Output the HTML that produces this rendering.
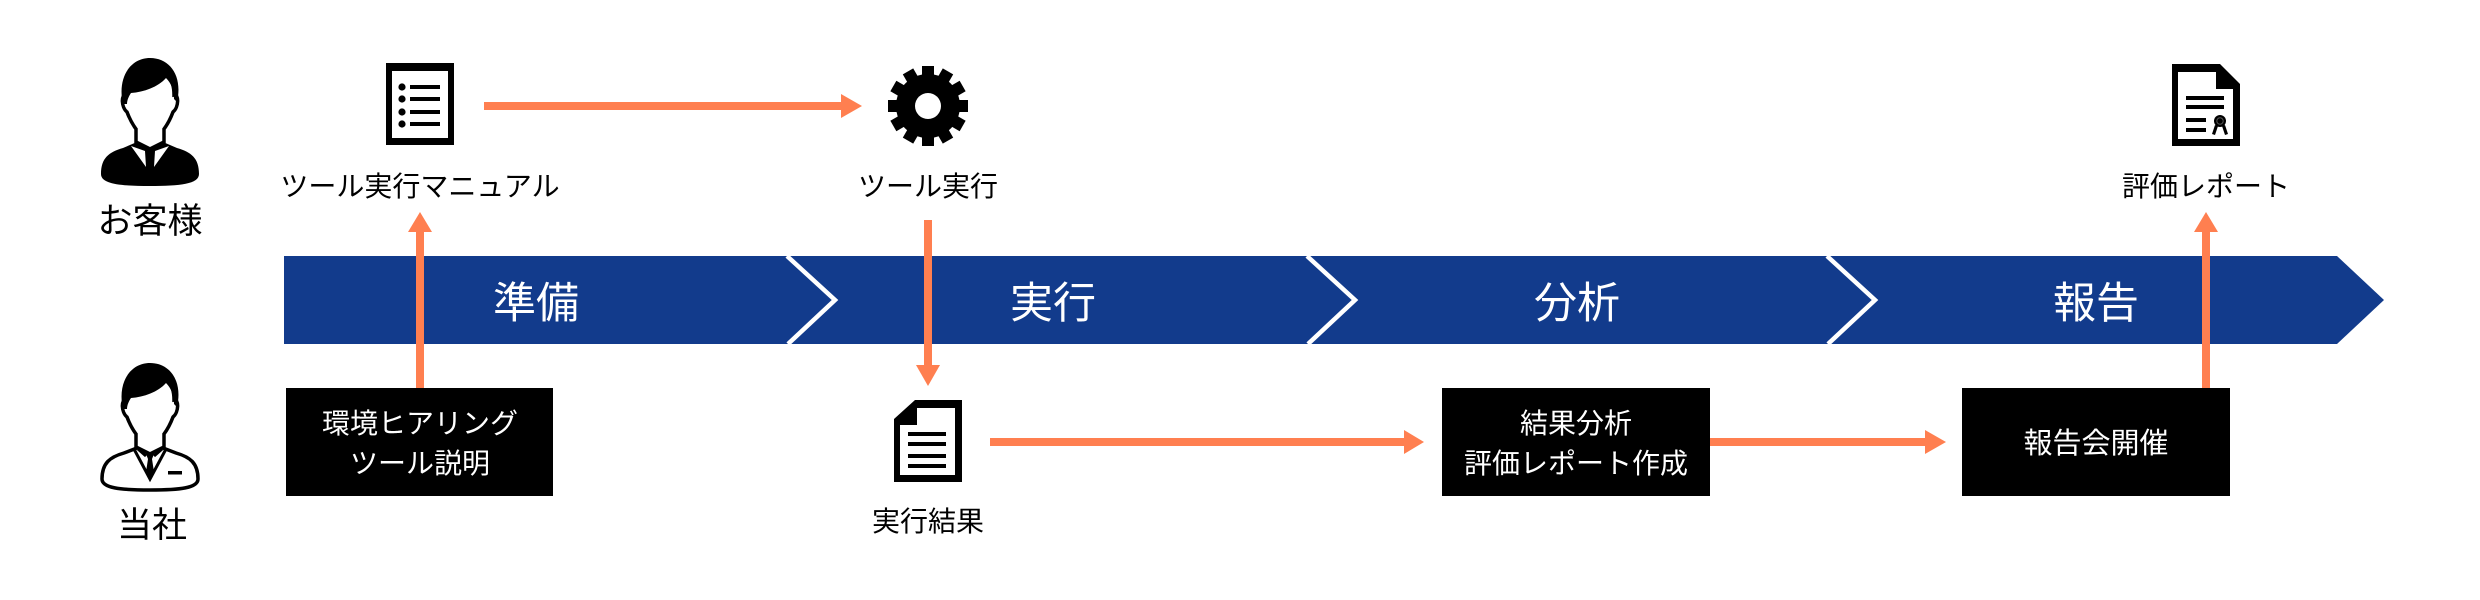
<!DOCTYPE html>
<html lang="ja">
<head>
<meta charset="utf-8">
<style>
  html, body { margin: 0; padding: 0; background: #ffffff; }
  body { width: 2480px; height: 600px; overflow: hidden; }
  svg { display: block; }
  text { font-family: "Liberation Sans", "Noto Sans CJK JP", sans-serif; }
</style>
</head>
<body>
<svg width="2480" height="600" viewBox="0 0 2480 600" xmlns="http://www.w3.org/2000/svg">
  <rect x="0" y="0" width="2480" height="600" fill="#ffffff"/>

  <!-- Blue band -->
  <polygon points="284,256 2337,256 2384,300 2337,344 284,344" fill="#123b8c"/>
  <g fill="none" stroke="#ffffff" stroke-width="4.5" stroke-linejoin="miter">
    <polyline points="787,256 835,300 788,344"/>
    <polyline points="1307,256 1355,300 1308,344"/>
    <polyline points="1827,256 1875,300 1828,344"/>
  </g>
  <g fill="#ffffff" font-size="43" text-anchor="middle">
    <text x="536" y="318">準備</text>
    <text x="1053" y="318">実行</text>
    <text x="1577" y="318">分析</text>
    <text x="2096" y="318">報告</text>
  </g>

  <!-- Customer icon -->
  <g transform="translate(90,50)">
    <path d="M 11 124 C 11 108 19 102 33 98 L 47 92 L 73 92 L 87 98 C 101 102 109 108 109 124 C 109 134 90 136 60 136 C 30 136 11 134 11 124 Z" fill="#000"/>
    <path d="M 36 45 C 31 44 31 57 37 62 C 40 70 43 75 46 79 L 46 92 L 60 99 L 74 92 L 74 79 C 77 75 80 70 83 62 C 89 57 89 44 84 45 C 84 26 74 19 60 19 C 46 19 36 26 36 45 Z" fill="#fff" stroke="#000" stroke-width="3.5"/>
    <path d="M 33 54 C 27 28 40 8 60 8 C 80 8 93 26 87 52 L 84 49 C 84 40 81 33 76 28 C 68 37 54 42 41 43 C 39 46 37 50 37 54 Z" fill="#000"/>
    <polygon points="41,96 55,101 56,117" fill="#fff"/>
    <polygon points="79,96 65,101 64,117" fill="#fff"/>
    <polygon points="56,99 64,99 62,104 64,117 60,122 56,117 58,104" fill="#000"/>
  </g>
  <text x="150" y="233" font-size="35" text-anchor="middle" fill="#000">お客様</text>

  <!-- Company icon -->
  <g transform="translate(90,355)">
    <path d="M 12 124 C 12 108 20 102 34 98 L 47 93 L 73 93 L 86 98 C 100 102 108 108 108 124 C 108 133 90 135 60 135 C 30 135 12 133 12 124 Z" fill="#fff" stroke="#000" stroke-width="3.5"/>
    <path d="M 36 45 C 31 44 31 57 37 62 C 40 70 43 75 46 79 L 46 92 L 60 99 L 74 92 L 74 79 C 77 75 80 70 83 62 C 89 57 89 44 84 45 C 84 26 74 19 60 19 C 46 19 36 26 36 45 Z" fill="#fff" stroke="#000" stroke-width="3.5"/>
    <path d="M 33 54 C 27 28 40 8 60 8 C 80 8 93 26 87 52 L 84 49 C 84 40 81 33 76 28 C 68 37 54 42 41 43 C 39 46 37 50 37 54 Z" fill="#000"/>
    <g fill="none" stroke="#000" stroke-width="3">
      <polyline points="44,94 60,124 76,94"/>
      <polyline points="48,94 56,101"/>
      <polyline points="72,94 64,101"/>
    </g>
    <polygon points="56,99 64,99 62,104 64,117 60,122 56,117 58,104" fill="#000"/>
    <rect x="78" y="116" width="14" height="3.5" fill="#000"/>
  </g>
  <text x="152" y="537" font-size="35" text-anchor="middle" fill="#000">当社</text>

  <!-- Manual icon -->
  <rect x="386" y="63" width="68" height="82" fill="#000"/>
  <rect x="392" y="71" width="56" height="67" fill="#fff"/>
  <g fill="#000">
    <circle cx="402" cy="87" r="3.6"/>
    <circle cx="402" cy="99" r="3.6"/>
    <circle cx="402" cy="112" r="3.6"/>
    <circle cx="402" cy="124" r="3.6"/>
    <rect x="410" y="85" width="30" height="4"/>
    <rect x="410" y="97" width="30" height="4"/>
    <rect x="410" y="110" width="30" height="4"/>
    <rect x="410" y="122" width="30" height="4"/>
  </g>
  <text x="420" y="196" font-size="28" text-anchor="middle" fill="#000">ツール実行マニュアル</text>

  <!-- Gear icon -->
  <g transform="translate(928,106)" fill="#000">
    <circle r="32"/>
    <rect x="-6" y="-40" width="12" height="14" transform="rotate(0)"/>
    <rect x="-6" y="-40" width="12" height="14" transform="rotate(30)"/>
    <rect x="-6" y="-40" width="12" height="14" transform="rotate(60)"/>
    <rect x="-6" y="-40" width="12" height="14" transform="rotate(90)"/>
    <rect x="-6" y="-40" width="12" height="14" transform="rotate(120)"/>
    <rect x="-6" y="-40" width="12" height="14" transform="rotate(150)"/>
    <rect x="-6" y="-40" width="12" height="14" transform="rotate(180)"/>
    <rect x="-6" y="-40" width="12" height="14" transform="rotate(210)"/>
    <rect x="-6" y="-40" width="12" height="14" transform="rotate(240)"/>
    <rect x="-6" y="-40" width="12" height="14" transform="rotate(270)"/>
    <rect x="-6" y="-40" width="12" height="14" transform="rotate(300)"/>
    <rect x="-6" y="-40" width="12" height="14" transform="rotate(330)"/>
    <circle r="13" fill="#fff"/>
  </g>
  <text x="928" y="196" font-size="28" text-anchor="middle" fill="#000">ツール実行</text>

  <!-- Result document icon -->
  <polygon points="894,419 915,400 962,400 962,482 894,482" fill="#000"/>
  <polygon points="917,408 955,408 955,475 900,475 900,425 917,425" fill="#fff"/>
  <g fill="#000">
    <rect x="908" y="432" width="38" height="4"/>
    <rect x="908" y="442" width="38" height="4"/>
    <rect x="908" y="454" width="38" height="4"/>
    <rect x="908" y="464" width="38" height="4"/>
  </g>
  <text x="928" y="531" font-size="28" text-anchor="middle" fill="#000">実行結果</text>

  <!-- Certificate / report icon -->
  <polygon points="2172,64 2220,64 2240,84 2240,146 2172,146" fill="#000"/>
  <polygon points="2178,72 2216,72 2216,89 2233,89 2233,139 2178,139" fill="#fff"/>
  <g fill="#000">
    <rect x="2186" y="96" width="38" height="4"/>
    <rect x="2186" y="105" width="38" height="4"/>
    <rect x="2186" y="118" width="20" height="4"/>
    <rect x="2186" y="128" width="20" height="4"/>
    <circle cx="2220" cy="121" r="6"/>
    <polygon points="2215,125 2218,126 2215,135 2212,134"/>
    <polygon points="2225,125 2222,126 2225,135 2228,134"/>
  </g>
  <circle cx="2220" cy="121" r="3.2" fill="none" stroke="#555" stroke-width="1"/>
  <text x="2206" y="196" font-size="28" text-anchor="middle" fill="#000">評価レポート</text>

  <!-- Black boxes -->
  <rect x="286" y="388" width="267" height="108" fill="#000"/>
  <text x="420" y="433" font-size="28" text-anchor="middle" fill="#fff">環境ヒアリング</text>
  <text x="420" y="473" font-size="28" text-anchor="middle" fill="#fff">ツール説明</text>

  <rect x="1442" y="388" width="268" height="108" fill="#000"/>
  <text x="1576" y="433" font-size="28" text-anchor="middle" fill="#fff">結果分析</text>
  <text x="1576" y="473" font-size="28" text-anchor="middle" fill="#fff">評価レポート作成</text>

  <rect x="1962" y="388" width="268" height="108" fill="#000"/>
  <text x="2096" y="453" font-size="29" text-anchor="middle" fill="#fff">報告会開催</text>

  <!-- Orange arrows -->
  <g fill="#ff7f50">
    <!-- box1 up to manual -->
    <rect x="416" y="231" width="8" height="157"/>
    <polygon points="408,232 432,232 420,212"/>
    <!-- manual to gear -->
    <rect x="484" y="102" width="358" height="8"/>
    <polygon points="841,94 841,118 862,106"/>
    <!-- gear down to result doc -->
    <rect x="924" y="220" width="8" height="146"/>
    <polygon points="916,365 940,365 928,386"/>
    <!-- result doc to box3 -->
    <rect x="990" y="438" width="415" height="8"/>
    <polygon points="1404,430 1404,454 1424,442"/>
    <!-- box3 to box4 -->
    <rect x="1710" y="438" width="216" height="8"/>
    <polygon points="1925,430 1925,454 1946,442"/>
    <!-- box4 up to report -->
    <rect x="2202" y="231" width="8" height="157"/>
    <polygon points="2194,232 2218,232 2206,212"/>
  </g>
</svg>
</body>
</html>
